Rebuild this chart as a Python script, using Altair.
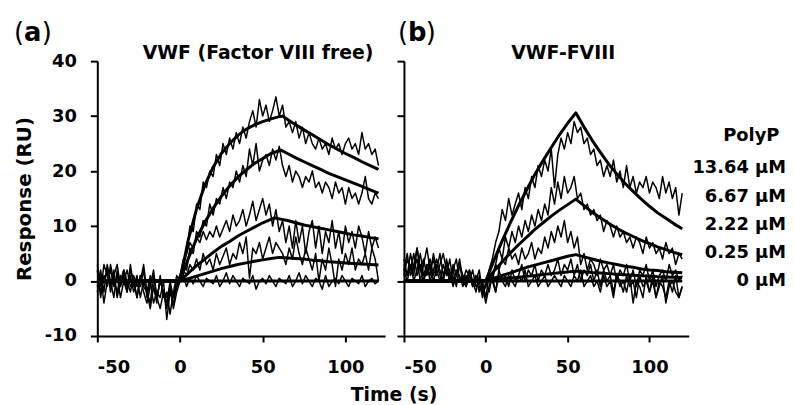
import altair as alt
import pandas as pd

# ---------------- data ----------------
T = list(range(-50, 121, 2))            # sample times (s) of the raw sensorgrams
CONC = ["13.64 µM", "6.67 µM", "2.22 µM", "0.25 µM", "0 µM"]
X_TICKS = [-50, 0, 50, 100]
Y_TICKS = [-10, 0, 10, 20, 30, 40]

# Panel (a) VWF (Factor VIII free): raw responses, t = -50..-2 then t = 0..120
A_PRE = [
    [2, -3, 1, -1, 3, 0, -2, 1, 0, 2, -1, 0, -3, 1, -2, -4, -1, 2, -3, 0, -2, -5, -1, -3, 0],
    [-1, 2, -2, 3, 0, -3, 2, -1, 1, -2, 3, -1, 1, -3, 0, -2, -5, -1, -4, 1, -3, -2, -6, -2, 1],
    [0, -2, 3, 1, -1, 2, -3, 0, 2, -1, 1, -2, 0, -1, 2, -3, 0, -4, -2, -3, 0, -7, -2, -4, -1],
    [-2, 1, -4, 0, 2, -1, 1, -3, 0, -2, 2, 0, -3, 1, -1, -2, -4, 1, -3, -5, -2, -4, 0, -3, -1],
    [3, -1, 0, 2, -2, 1, 3, -1, 2, 0, -2, 1, -1, 0, 3, -2, 1, -1, -3, 0, -2, -3, -1, -5, -2],
]
A_POST = [
    [1, 4, 5, 10, 9, 14, 13, 18, 17, 20,
     19, 23, 21, 25, 23, 26, 24, 27, 25, 28,
     26, 29, 31, 28, 33, 30, 32, 29, 31, 33.5,
     30, 32, 28, 29, 27, 29, 26, 28, 25, 27,
     25, 24, 26, 24, 25, 23, 26, 24, 25, 23,
     25, 26, 24, 25, 23, 27, 24, 25, 23, 24,
     21],
    [0, 3, 2, 6, 5, 9, 8, 11, 10, 14,
     12, 15, 14, 17, 15, 18, 17, 20, 18, 21,
     19, 24, 21, 25, 20, 22, 23, 21, 24, 22,
     24.5, 21, 19, 21, 18, 20, 19, 17, 19, 18,
     20, 17, 18, 16, 18, 17, 15, 18, 16, 17,
     14, 17, 15, 16, 14, 16, 19, 15, 14, 16,
     15],
    [1, 3, 5, 7, 6, 8, 7, 9, 7.5, 9,
     8, 10, 8, 9.5, 11, 9, 12, 10, 11, 13,
     10, 12, 14.5, 11, 13, 15, 12, 14, 10, 13,
     9, 11, 7, 10, 6, 11, 7, 10, 5, 9,
     11, 6, 10, 5, 9, 7, 11, 6, 9, 5,
     10, 7, 9, 6, 10, 8, 5, 9, 6, 8,
     6],
    [0, 2, 1, 3, 2, 4, 2, 5, 3, 4,
     2, 5, 3, 4.5, 6, 3, 5, 4, 7, 5,
     8, 0.5, 6, 5, 7, 4, 6, 8, 5, 7,
     6, 5, 3, 6, 4, 8, 5, 3, 6, 4,
     2, 5, 0, 4, 2, 6, 3, -1, 4, 2,
     5, 3, 6, 2, 4, 3, 5, 2, 6, 4,
     0],
    [0, 1, -1, 0.5, -0.5, 1, 0, -1, 0.5, 0,
     -0.5, 1, -1, 0, 1.5, -0.5, 1, 0, -1, 0.5,
     0, -0.5, 1, -1.5, 0, 0.5, -0.5, 1, 0, -1,
     0.5, 0, -0.5, 1, -1, 0, 1.5, -0.5, 1, 0,
     -1, 0.5, 0, -1.5, 1, -1, 0, 0.5, -0.5, 1,
     0, -1, 0.5, 0, -0.5, 1, -1, 0, 0.5, -0.5,
     0],
]

# Panel (b) VWF-FVIII: raw responses
B_PRE = [
    [3, 1, 5, 2, 4, 0, 3, 6, 2, 4, 1, 3, 5, 2, 0, 3, 1, 4, 0, 2, 1, -1, 0, 2, -2],
    [1, 4, 2, 5, 1, 3, 0, 2, 4, 1, 3, 2, 0, 4, 1, 2, -1, 3, 1, 0, 2, -1, 1, -2, 0],
    [2, 0, 3, 1, 6, 2, 0, 3, 1, 5, 2, 0, 3, 1, 4, 0, 2, 1, -1, 1, 0, 2, -1, 0, -3],
    [4, 1, 3, 0, 2, 5, 1, 3, 0, 2, 4, 1, 0, 3, 2, -1, 1, 3, 0, -1, 1, 0, -2, 1, -1],
    [2, 5, 1, 3, 6, 2, 4, 1, 3, 0, 2, 5, 1, 3, 0, 2, 4, 0, 1, -1, 2, 0, 1, -1, -2],
]
B_POST = [
    [-1, 2, 4, 7, 9, 13, 11, 15, 12, 14,
     16, 13, 17, 15, 19, 17, 21, 19, 22, 20,
     24, 17, 23, 26, 24, 27, 25, 29, 27, 28,
     25, 26, 23, 24, 21, 22, 19, 21, 19, 22,
     18, 20, 17, 21, 17, 19, 16, 18, 17, 19,
     16, 18, 17, 15, 19, 16, 18, 15, 17, 12,
     16],
    [-3, 1, 0, 3, 6, 4, 8, 6, 9, 7,
     10, 8, 11, 9, 12, 10, 13, 11, 14, 12,
     17, 14, 18, 15, 19, 16, 17, 19, 15, 16,
     13, 14, 12, 13, 11, 12, 9, 11, 10, 8,
     10, 8, 9, 7, 8, 6, 8, 7, 5, 8,
     6, 7, 5, 6, 4, 7, 5, 6, 3, 5,
     4],
    [0, -2, 1, 3, 2, 4, 3, 6, 4, 5,
     3, 6, 4, 5, 7, 4, 6, 5, 8, 6,
     9, 7, 10, 8, 11, 7, 9, 6, 8, 3,
     5, 2, 4, 3, 1, 4, 2, 3, 1, 3,
     0, 2, 1, 3, 0, 2, -1, 2, 1, 3,
     0, 2, -1, 1, 2, 0, 3, 1, 2, 0,
     1],
    [-4, -1, 1, -2, 2, 0, 1, -1, 2, 0,
     1, 3, 0, 2, 1, 3, 0, 2, 1, 3,
     1, 2, 4, 1, 3, 2, 4, 1, 3, 0,
     2, 1, 3, 0, 2, -1, 2, 0, 1, -2,
     1, 0, -2, 1, -1, 0, -3, 1, -1, 0,
     -2, 1, -3, 0, -1, -3, 0, -2, 1, -3,
     -1],
    [-1, 1, 0, -2, 1, 0, -1, 1, 0, -1,
     1, 0, 2, -1, 0, 1, -1, 0, 1, -1,
     0, 1, 0, -1, 1, 0, -1, 1, 0, 2,
     -1, 0, 1, -1, 0, -2, 1, -1, 0, -3,
     1, -1, 0, -2, 1, -4, 0, -1, -3, 1,
     -2, 0, -3, -1, 1, -4, -1, 0, -2, -3,
     -1],
]

# Fitted curves (time, response)
FIT_T_A = [
    [-50, 0, 5, 10, 15, 20, 25, 30, 35, 40, 45, 50, 55, 60, 62, 65, 70, 75, 80, 85, 90, 95, 100, 105, 110, 115, 120],
    [-50, 0, 5, 10, 15, 20, 25, 30, 35, 40, 45, 50, 55, 60, 61, 65, 70, 75, 80, 85, 90, 95, 100, 105, 110, 115, 120],
    [-50, 0, 5, 10, 15, 20, 25, 30, 35, 40, 45, 50, 55, 57, 60, 65, 70, 75, 80, 85, 90, 95, 100, 105, 110, 115, 120],
    [-50, 0, 5, 10, 15, 20, 25, 30, 35, 40, 45, 50, 55, 60, 61, 65, 70, 75, 80, 85, 90, 95, 100, 105, 110, 115, 120],
    [-50, 120],
]
FIT_V_A = [
    [0, 0, 7.5, 13.1, 17.4, 20.7, 23.2, 25.0, 26.5, 27.6, 28.4, 29.0, 29.5, 29.9, 30.0, 29.4, 28.4, 27.5, 26.6, 25.7, 24.8, 24.0, 23.2, 22.5, 21.7, 21.0, 20.3],
    [0, 0, 4.1, 7.7, 10.7, 13.2, 15.4, 17.3, 18.9, 20.2, 21.4, 22.3, 23.2, 23.7, 23.8, 23.2, 22.4, 21.7, 21.0, 20.3, 19.6, 19.0, 18.4, 17.8, 17.2, 16.6, 16.0],
    [0, 0, 1.45, 2.8, 4.0, 5.2, 6.3, 7.2, 8.2, 9.0, 9.8, 10.6, 11.2, 11.5, 11.3, 11.0, 10.6, 10.2, 9.9, 9.6, 9.3, 9.0, 8.7, 8.4, 8.2, 7.9, 7.7],
    [0, 0, 0.45, 0.9, 1.35, 1.8, 2.25, 2.65, 3.0, 3.3, 3.6, 3.85, 4.1, 4.3, 4.3, 4.2, 4.1, 4.0, 3.8, 3.7, 3.5, 3.4, 3.3, 3.2, 3.1, 3.0, 2.9],
    [0, 0],
]
FIT_T_B = [
    [-50, 0, 5, 10, 15, 20, 25, 30, 35, 40, 45, 50, 55, 60, 65, 70, 75, 80, 85, 90, 95, 100, 105, 110, 115, 120],
] * 4 + [[-50, 120]]
FIT_V_B = [
    [0, 0, 3.8, 7.3, 10.6, 13.7, 16.6, 19.4, 21.9, 24.3, 26.6, 28.7, 30.6, 28.0, 25.6, 23.4, 21.3, 19.5, 17.8, 16.3, 14.9, 13.6, 12.4, 11.4, 10.4, 9.5],
    [0, 0, 1.8, 3.5, 5.1, 6.6, 8.0, 9.4, 10.6, 11.8, 12.9, 13.9, 14.9, 13.7, 12.5, 11.5, 10.5, 9.6, 8.8, 8.1, 7.4, 6.8, 6.2, 5.7, 5.2, 4.8],
    [0, 0, 0.5, 1.0, 1.5, 2.0, 2.5, 2.9, 3.3, 3.7, 4.1, 4.5, 4.8, 4.4, 4.0, 3.6, 3.3, 3.0, 2.7, 2.5, 2.2, 2.0, 1.9, 1.7, 1.6, 1.5],
    [0, 0, 0.2, 0.4, 0.55, 0.7, 0.85, 1.0, 1.2, 1.35, 1.5, 1.65, 1.8, 1.7, 1.55, 1.45, 1.35, 1.25, 1.15, 1.05, 0.95, 0.9, 0.8, 0.75, 0.7, 0.65],
    [0, 0],
]

# ---------------- tables ----------------
raw_rows, fit_rows = [], []
for panel, pres, posts in (("a", A_PRE, A_POST), ("b", B_PRE, B_POST)):
    for c, pre, post in zip(CONC, pres, posts):
        for t, v in zip(T, pre + post):
            raw_rows.append({"panel": panel, "conc": c, "t": t, "v": v})
for panel, ts, vs in (("a", FIT_T_A, FIT_V_A), ("b", FIT_T_B, FIT_V_B)):
    for c, tl, vl in zip(CONC, ts, vs):
        for t, v in zip(tl, vl):
            fit_rows.append({"panel": panel, "conc": c, "t": t, "v": v})
raw = pd.DataFrame(raw_rows)
fit = pd.DataFrame(fit_rows)

FONT = "DejaVu Sans"
H = 277
HYPHEN = "'' + datum.value"   # plain hyphen-minus in tick labels


def txt(s, x, y, size, weight="bold", align="left", baseline="alphabetic"):
    return alt.Chart(pd.DataFrame({"s": [s]})).mark_text(
        align=align, baseline=baseline, fontSize=size, fontWeight=weight,
        font=FONT, color="black"
    ).encode(x=alt.value(x), y=alt.value(y), text="s:N")


def panel(p, width, name, letter, lx, first):
    xenc = alt.X("t:Q", title=None,
                 scale=alt.Scale(domain=[-50, 124], nice=False, zero=False),
                 axis=alt.Axis(values=X_TICKS, labelExpr=HYPHEN))
    if first:
        yaxis = alt.Axis(values=Y_TICKS, title="Response (RU)", labelExpr=HYPHEN)
    else:
        yaxis = alt.Axis(values=Y_TICKS, labels=False, title=None)
    yenc = alt.Y("v:Q", scale=alt.Scale(domain=[-10, 40], nice=False, zero=False), axis=yaxis)

    rawl = alt.Chart(raw[raw.panel == p]).mark_line(
        color="black", strokeWidth=1.5, strokeJoin="round"
    ).encode(x=xenc, y=yenc, detail="conc:N", order="t:Q")
    fitl = alt.Chart(fit[fit.panel == p]).mark_line(
        color="black", strokeWidth=3, strokeJoin="round"
    ).encode(x=xenc, y=yenc, detail="conc:N", order="t:Q")

    layers = [rawl, fitl,
              txt("(", lx, -20, 26, weight="normal"),
              txt(letter, lx + 10, -20, 26),
              txt(")", lx + 28, -20, 26, weight="normal"),
              txt(name, width / 2 + 17, -2, 19, align="center")]
    if not first:
        layers.append(txt("PolyP", 350, 75, 18, align="center", baseline="middle"))
        for i, c in enumerate(CONC):
            layers.append(txt(c, 385, 108 + i * 28.5, 18, align="right", baseline="middle"))
    return alt.layer(*layers).properties(width=width, height=H)


pa = panel("a", 290, "VWF (Factor VIII free)", "a", -84, True)
pb = panel("b", 287, "VWF-FVIII", "b", -6, False)

chart = alt.hconcat(pa, pb, spacing=9).properties(
    title=alt.TitleParams("Time (s)", orient="bottom", anchor="middle",
                          fontSize=19, fontWeight="bold", font=FONT,
                          color="black", offset=9, dx=-6),
    padding={"left": 5, "top": 10, "right": 0, "bottom": 0},
).configure_view(stroke="transparent").configure_axis(
    grid=False, domainColor="black", domainWidth=2, tickColor="black",
    tickWidth=2, labelFont=FONT, labelFontSize=18, labelFontWeight="bold",
    labelColor="black", titleFont=FONT, titleFontSize=20,
    titleFontWeight="bold", titleColor="black"
).configure_axisX(tickSize=6, labelPadding=17).configure_axisY(
    tickSize=7, labelPadding=14, titlePadding=10
)

chart.save("out.html", embed_options={"renderer": "svg", "actions": False})
